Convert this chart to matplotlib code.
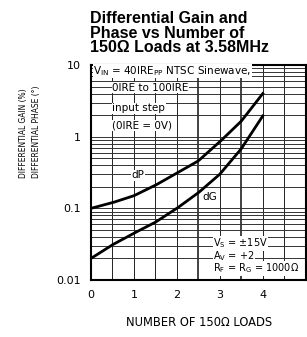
import numpy as np
import matplotlib
matplotlib.use("Agg")
import matplotlib.pyplot as plt

# Curve readings (number of 150 ohm loads vs value)
loads = [0, 0.5, 1, 1.5, 2, 2.5, 3, 3.5, 4]
dP = [0.10, 0.12, 0.15, 0.21, 0.31, 0.46, 0.85, 1.65, 4.0]
dG = [0.020, 0.031, 0.045, 0.064, 0.10, 0.165, 0.30, 0.68, 1.95]

xticks = [0, 1, 2, 3, 4]
yticks = [0.01, 0.1, 1, 10]
ytick_labels = ["0.01", "0.1", "1", "10"]

fig = plt.figure(figsize=(3.07, 3.37), dpi=100)
ax = fig.add_axes([0.296, 0.169, 0.700, 0.638])

# grid
for gx in np.arange(0.5, 5.0, 0.5):
    lw = 1.2 if gx in (2.5, 3.5) else 0.7
    ax.axvline(gx, color='#222222', lw=lw, zorder=1)
for dec in [0.01, 0.1, 1]:
    for m in range(1, 10):
        gy = dec * m
        if gy <= 0.01 or gy >= 10:
            continue
        ax.axhline(gy, color='#333333', lw=0.7, zorder=1)

xs = np.linspace(0, 4, 200)
ax.plot(xs, np.exp(np.interp(xs, loads, np.log(dP))), color='black', lw=2, zorder=3)
ax.plot(xs, np.exp(np.interp(xs, loads, np.log(dG))), color='black', lw=2, zorder=3)

ax.set_yscale('log')
ax.set_xlim(0, 5)
ax.set_ylim(0.01, 10)
ax.set_xticks(xticks)
ax.set_yticks(yticks)
ax.set_yticklabels(ytick_labels)
ax.minorticks_off()
ax.tick_params(length=0, labelsize=8, pad=7)
for s in ax.spines.values():
    s.set_linewidth(1.5)

box = dict(facecolor='white', edgecolor='none', pad=0.3)
def note(x, y, s, fs=7.5):
    ax.text(x, y, s, fontsize=fs, va='center', ha='left', bbox=box, zorder=4)

note(0.05, 8.3, r"V$_{\rm IN}$ = 40IRE$_{\rm PP}$ NTSC Sinewave,")
note(0.5, 4.8, "0IRE to 100IRE")
note(0.5, 2.5, "input step")
note(0.5, 1.42, "(0IRE = 0V)")
note(0.95, 0.29, "dP")
note(2.6, 0.142, "dG")
note(2.84, 0.0325, r"V$_{\rm S}$ = ±15V", 7)
note(2.84, 0.0218, r"A$_{\rm V}$ = +2", 7)
note(2.84, 0.0145, r"R$_{\rm F}$ = R$_{\rm G}$ = 1000Ω", 7)

fig.text(0.293, 0.966, "Differential Gain and\nPhase vs Number of\n150Ω Loads at 3.58MHz",
         fontsize=11.5, fontweight='bold', family='Liberation Sans', va='top', ha='left',
         linespacing=0.95)
fig.text(0.075, 1 - 178 / 337, "DIFFERENTIAL GAIN (%)", fontsize=6, stretch='condensed',
         rotation=90, ha='center', va='bottom')
fig.text(0.12, 1 - 178 / 337, "DIFFERENTIAL PHASE (°)", fontsize=6, stretch='condensed',
         rotation=90, ha='center', va='bottom')
fig.text(0.648, 0.042, "NUMBER OF 150Ω LOADS", fontsize=8.3, ha='center', va='center')

plt.savefig('out.png', dpi=100)
